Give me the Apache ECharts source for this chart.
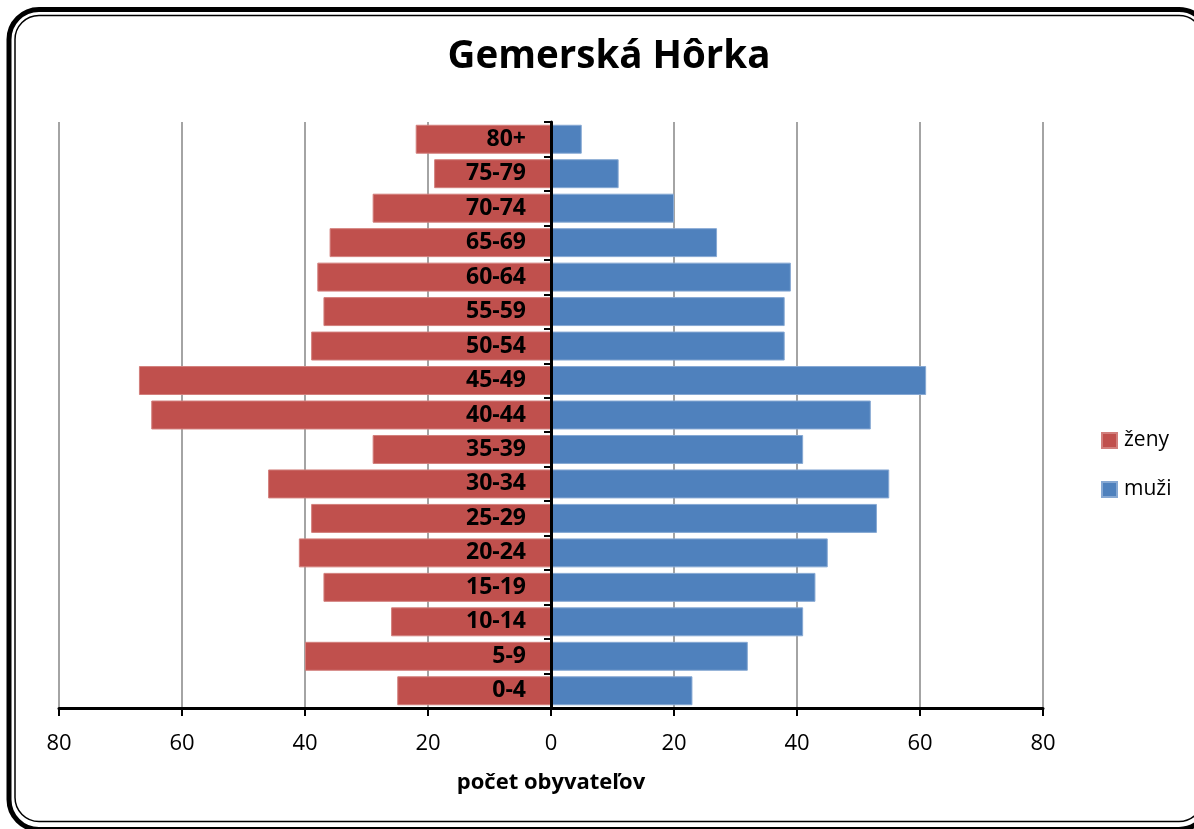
<!DOCTYPE html>
<html><head><meta charset="utf-8">
<script src="https://cdn.jsdelivr.net/npm/echarts@6/dist/echarts.min.js"></script>
<style>html,body{margin:0;padding:0;background:#fff}#c{width:1194px;height:829px}</style>
</head><body><div id="c"></div>
<script>
const categories = ['0-4','5-9','10-14','15-19','20-24','25-29','30-34','35-39','40-44','45-49','50-54','55-59','60-64','65-69','70-74','75-79','80+'];
const zeny = [25,40,26,37,41,39,46,29,65,67,39,37,38,36,29,19,22];
const muzi = [23,32,41,43,45,53,55,41,52,61,38,38,39,27,20,11,5];
const xTicks = [-80,-60,-40,-20,0,20,40,60,80];

const FONT = 'Open Sans';
const chart = echarts.init(document.getElementById('c'), null, {renderer:'canvas'});
chart.setOption({
  animation:false,
  backgroundColor:'#fff',
  title:{text:'Gemerská Hôrka',left:604,top:33,textAlign:'center',
    textStyle:{fontFamily:FONT,fontWeight:'bold',fontSize:38.5,color:'#000'}},
  legend:{orient:'vertical',left:1101,top:430,padding:0,itemGap:28,itemWidth:15,itemHeight:15,icon:'rect',
    data:['ženy','muži'],textStyle:{fontFamily:FONT,fontSize:21,color:'#000',padding:[0,0,0,2]}},
  grid:{left:59,right:151,top:122,bottom:121,containLabel:false},
  xAxis:{type:'value',min:-80,max:80,interval:20,
    name:'počet obyvateľov',nameLocation:'middle',nameGap:64,
    nameTextStyle:{fontFamily:FONT,fontWeight:'bold',fontSize:22,color:'#000'},
    axisLine:{show:true,onZero:false,lineStyle:{color:'#000',width:3}},
    axisTick:{show:true,length:8,lineStyle:{color:'#000',width:2}},
    axisLabel:{fontFamily:FONT,fontSize:22,color:'#000',margin:25,
      formatter:v=>String(Math.abs(v))},
    splitLine:{show:true,lineStyle:{color:'#868686',width:1.5}}},
  yAxis:{type:'category',data:categories,z:5,
    axisLine:{show:true,onZero:true,lineStyle:{color:'#000',width:3}},
    axisTick:{show:true,length:7,lineStyle:{color:'#000',width:2}},
    axisLabel:{show:false}},
  series:[
    {name:'ženy',type:'bar',stack:'t',barCategoryGap:'16%',
      data:zeny.map(v=>-v),
      label:{show:true,position:'insideRight',distance:25,formatter:p=>p.name,
        fontFamily:FONT,fontWeight:'bold',fontSize:23,color:'#000'},
      itemStyle:{color:'#C0504D',borderColor:'#D27F7C',borderWidth:1}},
    {name:'muži',type:'bar',stack:'t',barCategoryGap:'16%',
      data:muzi,
      itemStyle:{color:'#4F81BD',borderColor:'#86A8D3',borderWidth:1}}
  ],
  graphic:[
    {type:'rect',shape:{x:9,y:9.5,width:1200,height:820,r:30},z:-1,
      style:{fill:null,stroke:'#000',lineWidth:5}},
    {type:'rect',shape:{x:15,y:15.5,width:1188,height:806,r:24},z:-1,
      style:{fill:null,stroke:'#000',lineWidth:1.5}}
  ]
});
</script></body></html>
